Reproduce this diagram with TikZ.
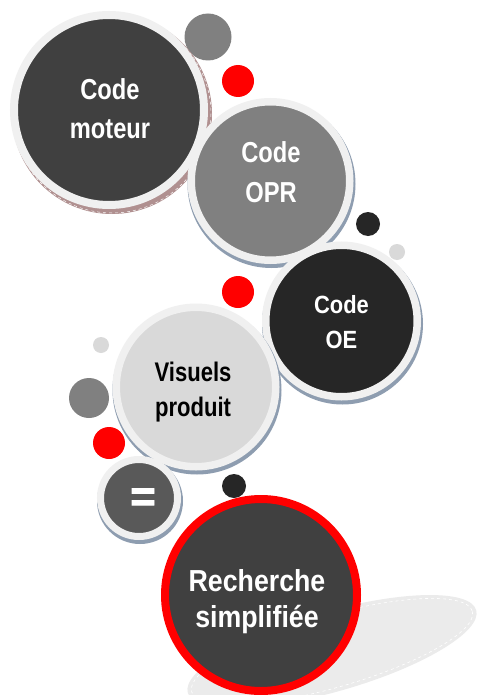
\documentclass[tikz,border=0pt]{standalone}
\usepackage{fontspec}
\setmainfont[FakeStretch=0.82]{Liberation Sans}
\newfontfamily\widefont[FakeStretch=0.88]{Liberation Sans}
\newfontfamily\eqfont[FakeBold=2]{Liberation Sans}
\definecolor{ringc}{HTML}{F0F0F0}
\definecolor{shblue}{HTML}{8E9DB0}
\definecolor{shbrown}{HTML}{B09090}
\definecolor{dkA}{HTML}{404040}
\definecolor{dkB}{HTML}{262626}
\definecolor{gyA}{HTML}{808080}
\definecolor{gyB}{HTML}{D9D9D9}
\definecolor{gyC}{HTML}{595959}
\definecolor{redA}{HTML}{FF0000}
\definecolor{ellc}{HTML}{EBEBEB}
\tikzset{
  bigc/.style={circle, inner sep=0pt, draw=ringc},
  lbl/.style={text=white, align=center, inner sep=0pt},
  dotc/.style={circle, inner sep=0pt},
}
\begin{document}
\begin{tikzpicture}[x=1bp, y=-1bp]
\useasboundingbox (0,0) rectangle (478,695);
\fill[white] (0,0) rectangle (478,695);
% small dots
\node[dotc, fill=gyA, minimum size=47bp] (d1) at (208,37) {};
\node[dotc, fill=redA, minimum size=32bp] (d2) at (238,81) {};
\node[dotc, fill=dkB, minimum size=24bp] (d3) at (368,224) {};
\node[dotc, fill=gyB, minimum size=16bp] (d4) at (397,252) {};
\node[dotc, fill=redA, minimum size=32bp] (d5) at (238,292) {};
\node[dotc, fill=gyB, minimum size=16bp] (d6) at (101,345) {};
\node[dotc, fill=gyA, minimum size=40bp] (d7) at (89,398) {};
\node[dotc, fill=redA, minimum size=32bp] (d8) at (109,443) {};
\node[dotc, fill=dkB, minimum size=24bp] (d9) at (234,486) {};
% Code moteur
\fill[shbrown] (112,114) circle (100);
\draw[white, dashed, line width=0.5bp] (112,114) circle (99);
\node[bigc, fill=dkA, minimum size=190bp, line width=8bp] (moteur) at (109,110) {};
\node[lbl, font=\bfseries\fontsize{29}{39}\selectfont] (moteurt) at (110,108.5) {Code\\moteur};
% Code OPR
\fill[shblue] (271.5,184) circle (84);
\node[bigc, fill=gyA, minimum size=158.5bp, line width=7.5bp] (opr) at (270.5,181) {};
\node[lbl, font=\bfseries\fontsize{29}{40}\selectfont] (oprt) at (271,172.5) {Code\\OPR};
% Code OE
\fill[shblue] (342.5,324) circle (80.5);
\node[bigc, fill=dkB, minimum size=151.5bp, line width=7.5bp] (oe) at (341.5,321) {};
\node[lbl, font=\widefont\bfseries\fontsize{25}{35}\selectfont] (oet) at (341.5,322) {Code\\OE};
% Visuels produit
\fill[shblue] (197,390) circle (84.5);
\node[bigc, fill=gyB, minimum size=159.5bp, line width=7.5bp] (vis) at (196,387) {};
\node[lbl, text=black, font=\bfseries\fontsize{27}{36}\selectfont] (vist) at (193,392) {Visuels\\produit};
% equals
\fill[shblue] (140,501) circle (43);
\node[bigc, fill=gyC, minimum size=77bp, line width=7bp] (eq) at (139,498) {};
\node[lbl, font=\eqfont\bfseries\fontsize{44}{44}\selectfont] (eqt) at (143,500) {=};
% ellipse shadow
\fill[ellc, rotate around={16:(332,651.5)}] (332,651.5) ellipse (150 and 40);
\draw[white, dashed, line width=0.6bp, rotate around={16:(332,651.5)}] (332,651.5) ellipse (146 and 36);
% Recherche simplifiee
\node[circle, inner sep=0pt, draw=redA, fill=dkA, minimum size=192bp, line width=8bp] (rech) at (261,595) {};
\node[lbl, font=\widefont\bfseries\fontsize{30.5}{36}\selectfont] (recht) at (257,602) {Recherche\\simplifiée};
\end{tikzpicture}
\end{document}
